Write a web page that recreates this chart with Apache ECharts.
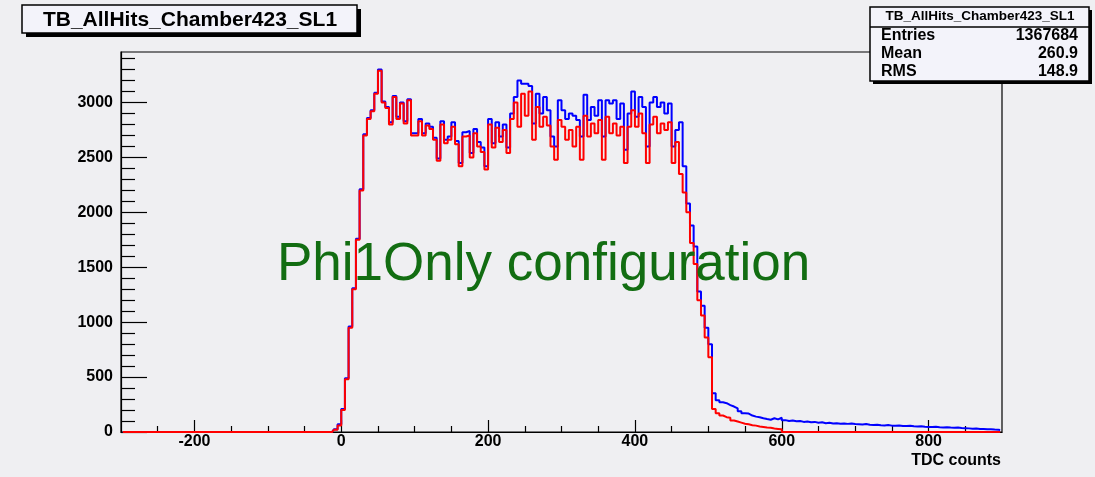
<!DOCTYPE html>
<html><head><meta charset="utf-8">
<script src="https://cdn.jsdelivr.net/npm/echarts@6/dist/echarts.min.js"></script>
<style>html,body{margin:0;padding:0;background:#efeff2}#c{width:1095px;height:477px}</style>
</head><body><div id="c"></div><script>
const binStart = -300, binWidth = 5;
// red histogram, bins from -300 to 895 (lower edges), width 5
const redCounts = [
  0,0,0,0,0,0,0,0,0,0, 0,0,0,0,0,0,0,0,0,0,
  0,0,0,0,0,0,0,0,0,0, 0,0,0,0,0,0,0,0,0,0,
  0,0,0,0,0,0,0,0,0,0, 0,0,0,0,0,0,0,0, 20,60,
  200,480,950,1300,1750,2200,2700,2850,2920,3080,
  3290,3000,2950,2800,3050,2850,2990,2810,3020,2700,
  2700,2830,2700,2790,2760,2660,2470,2800,2630,2660,
  2780,2620,2420,2690,2700,2500,2720,2600,2550,2390,
  2800,2590,2770,2640,2750,2540,2850,3000,2780,3080,
  2880,3100,2660,2960,2780,2870,2790,2600,2480,2840,
  2780,2660,2750,2600,2780,2480,2880,2690,2810,2720,
  2840,2480,2870,2720,2810,2700,2780,2450,2780,2930,
  2780,2900,2720,2450,2800,2870,2720,2810,2750,2820,
  2450,2640,2350,2180,2000,1720,1530,1200,1060,860,
  680,210,170,150,135,130,105,95,85,75,
  70,62,58,50,45,40,38,32,28,24,
  0,0,0,0,0,0,0,0,0,0, 0,0,0,0,0,0,0,0,0,0,
  0,0,0,0,0,0,0,0,0,0, 0,0,0,0,0,0,0,0,0,0,
  0,0,0,0,0,0,0,0,0,0, 0,0,0,0,0,0,0,0,0,0
];
// blue histogram, same binning
const blueCounts = [
  0,0,0,0,0,0,0,0,0,0, 0,0,0,0,0,0,0,0,0,0,
  0,0,0,0,0,0,0,0,0,0, 0,0,0,0,0,0,0,0,0,0,
  0,0,0,0,0,0,0,0,0,0, 0,0,0,0,0,0,0,0, 25,70,
  210,490,960,1310,1760,2210,2710,2860,2930,3090,
  3300,3010,2960,2820,3060,2870,3000,2830,3030,2720,
  2720,2850,2720,2810,2780,2680,2490,2830,2660,2690,
  2820,2650,2450,2730,2740,2540,2760,2640,2590,2420,
  2850,2630,2820,2690,2800,2590,2900,3050,3200,3170,
  3170,3150,2810,3080,2900,3050,2930,2690,2600,3020,
  2930,2850,2900,2880,2840,2690,3070,2840,2960,2880,
  3020,2690,3020,2990,3020,2850,2990,2570,2900,3100,
  2870,3050,2960,2600,3000,3050,2960,3000,2900,2990,
  2600,2750,2820,2420,2080,1880,1690,1280,1150,950,
  800,352,290,270,262,245,232,215,190,170,
  168,150,140,135,125,118,112,125,115,130,
  108,100,105,98,100,92,95,88,92,85,
  88,80,84,78,80,76,78,74,78,72,
  70,68,72,66,64,67,62,60,63,58,
  57,60,55,54,56,52,50,53,48,46,
  45,48,43,42,44,40,38,41,36,35,
  33,30,32,28,27,25,26,22,20,18
];
const xMajorTicks = [-200, 0, 200, 400, 600, 800];
const xMinorTicks = [-250,-150,-100,-50,50,100,150,250,300,350,450,500,550,650,700,750,850];
const yMajorTicks = [0, 500, 1000, 1500, 2000, 2500, 3000];
const yMinorTicks = [100,200,300,400,600,700,800,900,1100,1200,1300,1400,1600,1700,1800,1900,
  2100,2200,2300,2400,2600,2700,2800,2900,3100,3200,3300,3400];
const histTitle = 'TB_AllHits_Chamber423_SL1';
const statNames = ['Entries', 'Mean', 'RMS'];
const statValues = ['1367684', '260.9', '148.9'];
const xTitle = 'TDC counts';
const note = 'Phi1Only configuration';

const FF = '"Liberation Sans", Arial, Helvetica, sans-serif';
const toData = arr => arr.map((v, i) => [binStart + i * binWidth + binWidth / 2, v]);

const statRowsY = [35.5, 54, 72];
const graphics = [
  {type:'rect', shape:{x:26,y:9,width:335,height:28}, style:{fill:'#000'}, z:10},
  {type:'rect', shape:{x:22,y:5,width:335,height:28}, style:{fill:'#f3f3fa', stroke:'#000', lineWidth:1.5}, z:11},
  {type:'text', x:190, y:20, style:{text:histTitle, font:'bold 21px ' + FF, fill:'#000', align:'center', verticalAlign:'middle'}, z:12},
  {type:'rect', shape:{x:873,y:10,width:219,height:74}, style:{fill:'#000'}, z:10},
  {type:'rect', shape:{x:870,y:7,width:219,height:74}, style:{fill:'#f3f3fa', stroke:'#000', lineWidth:1.5}, z:11},
  {type:'line', shape:{x1:870,y1:27,x2:1089,y2:27}, style:{stroke:'#000', lineWidth:1.5}, z:12},
  {type:'text', x:980, y:16.5, style:{text:histTitle, font:'bold 13.5px ' + FF, fill:'#000', align:'center', verticalAlign:'middle'}, z:12},
  {type:'text', x:1001, y:461, style:{text:xTitle, font:'bold 16px ' + FF, fill:'#000', align:'right', verticalAlign:'middle'}, z:12},
  {type:'text', x:277, y:265, style:{text:note, font:'53px ' + FF, fill:'#126d12', align:'left', verticalAlign:'middle'}, z:12}
];
statNames.forEach((n, i) => {
  graphics.push({type:'text', x:881, y:statRowsY[i], style:{text:n, font:'bold 16px ' + FF, fill:'#000', align:'left', verticalAlign:'middle'}, z:12});
  graphics.push({type:'text', x:1078, y:statRowsY[i], style:{text:statValues[i], font:'bold 16px ' + FF, fill:'#000', align:'right', verticalAlign:'middle'}, z:12});
});

const chart = echarts.init(document.getElementById('c'), null, {renderer:'canvas'});
const lbl = {fontFamily:FF, fontWeight:'bold', fontSize:16, color:'#000', formatter: v => String(v)};
chart.setOption({
  animation:false,
  backgroundColor:'#efeff2',
  grid:{left:121, top:52, right:93, bottom:45, show:true, borderColor:'#000', borderWidth:1.2, backgroundColor:'transparent'},
  xAxis:[
    {type:'value', min:-300, max:900, position:'bottom',
     axisLine:{show:true, onZero:false, lineStyle:{color:'#000', width:1.2}},
     axisTick:{show:true, inside:true, length:12, customValues:xMajorTicks, lineStyle:{color:'#000', width:1.2}},
     axisLabel:Object.assign({customValues:xMajorTicks, margin:2}, lbl),
     splitLine:{show:false}},
    {type:'value', min:-300, max:900, position:'bottom',
     axisLine:{show:false, onZero:false},
     axisTick:{show:true, inside:true, length:6, customValues:xMinorTicks, lineStyle:{color:'#000', width:1.2}},
     axisLabel:{show:false}, splitLine:{show:false}}
  ],
  yAxis:[
    {type:'value', min:0, max:3460, position:'left',
     axisLine:{show:true, onZero:false, lineStyle:{color:'#000', width:1.2}},
     axisTick:{show:true, inside:true, length:26, customValues:yMajorTicks, lineStyle:{color:'#000', width:1.2}},
     axisLabel:Object.assign({customValues:yMajorTicks, margin:8}, lbl),
     splitLine:{show:false}},
    {type:'value', min:0, max:3460, position:'left', offset:0,
     axisLine:{show:false, onZero:false},
     axisTick:{show:true, inside:true, length:14, customValues:yMinorTicks, lineStyle:{color:'#000', width:1.2}},
     axisLabel:{show:false}, splitLine:{show:false}}
  ],
  series:[
    {type:'line', name:'blue', xAxisIndex:0, yAxisIndex:0, data:toData(blueCounts), step:'middle',
     showSymbol:false, symbol:'none', lineStyle:{color:'#0000ff', width:2}, z:3},
    {type:'line', name:'red', xAxisIndex:0, yAxisIndex:0, data:toData(redCounts), step:'middle',
     showSymbol:false, symbol:'none', lineStyle:{color:'#ff0000', width:2}, z:4}
  ],
  graphic:graphics
});
</script></body></html>
